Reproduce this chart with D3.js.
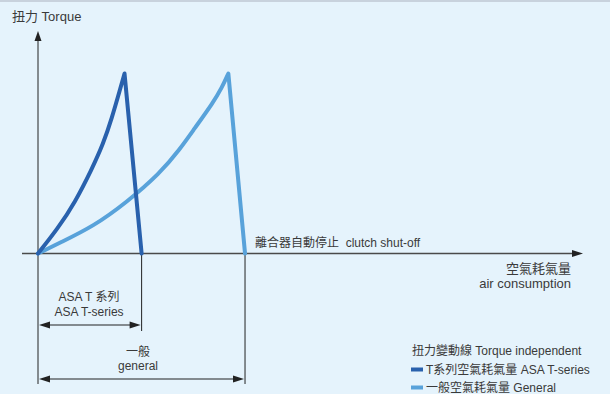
<!DOCTYPE html>
<html>
<head>
<meta charset="utf-8">
<script src="https://cdn.jsdelivr.net/npm/d3@7"></script>
<style>
	html, body { margin: 0; padding: 0; background: #e5f3fc; }
	svg { display: block; }
	text { font-family: "Liberation Sans", Arial, "Noto Sans CJK TC", sans-serif; fill: #3a3a3a; white-space: pre; }
</style>
</head>
<body>
<div id="chart"></div>
<script>
// air consumption (x) vs torque (y)
var tSeriesX = [0, 9.7, 18, 26, 31.7, 35.8, 39.8, 42];
var tSeriesY = [0, 14, 28.5, 46.5, 61, 75, 91, 100];
var tShutoff = 50.3;

var generalX = [0, 10.7, 26.8, 43.1, 59.2, 68.9, 75.4, 85.1, 89.2, 92.4];
var generalY = [0, 6, 15, 28.5, 44.5, 58, 68.5, 84, 92, 100];
var generalShutoff = 100.5;

var legendLabels = ["T系列空氣耗氣量 ASA T-series", "一般空氣耗氣量 General"];
var colors = ["#2961ad", "#58a2da"];

var W = 610, H = 394;

var x = d3.scaleLinear().domain([0, 100]).range([38, 244]);
var y = d3.scaleLinear().domain([0, 100]).range([253.5, 73.5]);

var svg = d3.select("#chart").append("svg")
		.attr("width", W)
		.attr("height", H);

svg.append("rect")
		.attr("width", W).attr("height", H)
		.attr("fill", "#e5f3fc");
svg.append("rect")
		.attr("width", W).attr("height", 2)
		.attr("fill", "#c8d2dd");

var ink = "#222";

function arrowHead(tx, ty, dir, len, half) {
	// dir: "up", "right", "left"
	var pts;
	if (dir == "up") pts = [[tx, ty], [tx - half, ty + len], [tx + half, ty + len]];
	else if (dir == "right") pts = [[tx, ty], [tx - len, ty - half], [tx - len, ty + half]];
	else pts = [[tx, ty], [tx + len, ty - half], [tx + len, ty + half]];
	svg.append("path")
			.attr("d", "M" + pts.join("L") + "Z")
			.attr("fill", ink);
}

// axes
var y0 = y(0);
svg.append("line")
		.attr("x1", 22).attr("x2", 576)
		.attr("y1", y0).attr("y2", y0)
		.attr("stroke", "#4a4a4a").attr("stroke-width", 1.4);
arrowHead(583, y0, "right", 11, 3.5);

svg.append("line")
		.attr("x1", x(0)).attr("x2", x(0))
		.attr("y1", 38).attr("y2", 384)
		.attr("stroke", ink).attr("stroke-width", 1);
arrowHead(x(0), 31, "up", 10, 3.5);

// dimension lines
svg.append("line")
		.attr("x1", x(tShutoff)).attr("x2", x(tShutoff))
		.attr("y1", y0).attr("y2", 331)
		.attr("stroke", ink).attr("stroke-width", 1);
svg.append("line")
		.attr("x1", x(generalShutoff)).attr("x2", x(generalShutoff))
		.attr("y1", y0).attr("y2", 384)
		.attr("stroke", ink).attr("stroke-width", 1);

function dimArrow(x1, x2, yy) {
	svg.append("line")
			.attr("x1", x1 + 8).attr("x2", x2 - 8)
			.attr("y1", yy).attr("y2", yy)
			.attr("stroke", ink).attr("stroke-width", 1.2);
	arrowHead(x1 + 1, yy, "left", 11, 3.5);
	arrowHead(x2 - 1, yy, "right", 11, 3.5);
}
dimArrow(x(0), x(tShutoff), 325);
dimArrow(x(0), x(generalShutoff), 379);

// curves
var line = d3.line()
		.x(d => x(d[0]))
		.y(d => y(d[1]))
		.curve(d3.curveBasis);

function curve(xs, ys, end, color) {
	var pts = d3.zip(xs, ys);
	svg.append("path")
			.attr("d", line(pts) + "L" + x(end) + "," + y(0))
			.attr("fill", "none")
			.attr("stroke", color)
			.attr("stroke-width", 4)
			.attr("stroke-linejoin", "round")
			.attr("stroke-linecap", "round");
}
curve(generalX, generalY, generalShutoff, colors[1]);
curve(tSeriesX, tSeriesY, tShutoff, colors[0]);

// labels
function label(txt, tx, ty, size, anchor) {
	svg.append("text")
			.attr("x", tx).attr("y", ty)
			.attr("font-size", size)
			.attr("text-anchor", anchor || "start")
			.text(txt);
}

label("扭力 Torque", 12, 21, 13);
label("離合器自動停止\u00a0\u00a0clutch shut-off", 255, 247, 12);
label("空氣耗氣量", 571, 273, 13, "end");
label("air consumption", 571, 288, 13, "end");

label("ASA T 系列", 89, 301, 12, "middle");
label("ASA T-series", 89, 316, 12, "middle");
label("一般", 138, 356, 12, "middle");
label("general", 138, 370, 12, "middle");

// legend
label("扭力變動線 Torque independent", 412, 355, 12);
legendLabels.forEach((t, i) => {
	var ly = 369.5 + i * 18;
	svg.append("line")
			.attr("x1", 411).attr("x2", 423)
			.attr("y1", ly).attr("y2", ly)
			.attr("stroke", colors[i]).attr("stroke-width", 4);
	label(t, 426, ly + 4.5, 12);
});
</script>
</body>
</html>
